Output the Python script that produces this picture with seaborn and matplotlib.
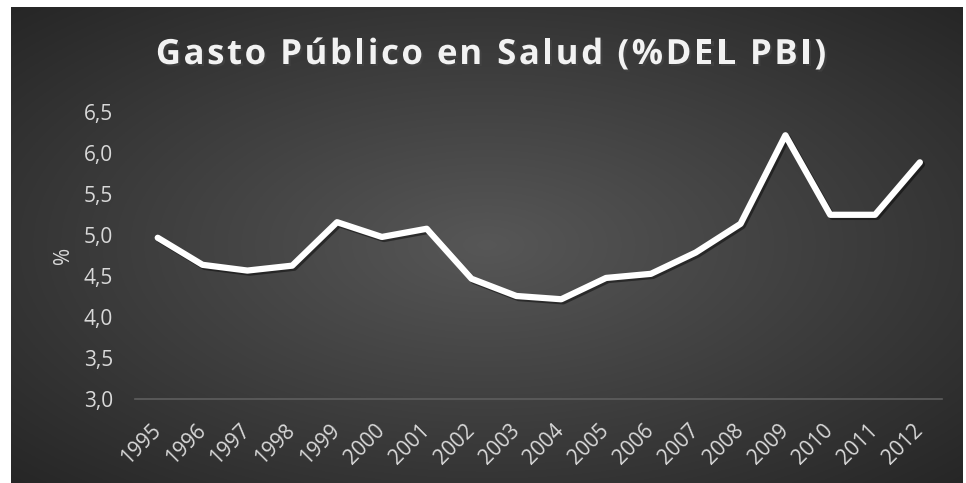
import numpy as np
import pandas as pd
import seaborn as sns
import matplotlib.pyplot as plt
import matplotlib.patheffects as pe

years = ['1995', '1996', '1997', '1998', '1999', '2000', '2001', '2002', '2003',
         '2004', '2005', '2006', '2007', '2008', '2009', '2010', '2011', '2012']
gasto = [4.97, 4.64, 4.57, 4.63, 5.16, 4.98, 5.08, 4.47, 4.26,
         4.22, 4.48, 4.53, 4.79, 5.14, 6.22, 5.25, 5.25, 5.89]
y_ticks = [3.0, 3.5, 4.0, 4.5, 5.0, 5.5, 6.0, 6.5]
y_labels = ['3,0', '3,5', '4,0', '4,5', '5,0', '5,5', '6,0', '6,5']
title = 'Gasto Público en Salud (%DEL PBI)'

df = pd.DataFrame({'year': years, 'gasto': gasto})

sns.set_theme(style='white')
plt.rcParams['font.family'] = ['Open Sans', 'DejaVu Sans']

fig = plt.figure(figsize=(9.66, 4.83), dpi=100)
fig.patch.set_facecolor('white')

# dark radial background
bg = fig.add_axes([11 / 966, 0, 952 / 966, 476 / 483], zorder=0)
gx, gy = np.meshgrid(np.linspace(-1, 1, 600), np.linspace(-1, 1, 300))
r = np.clip(np.sqrt(gx ** 2 + gy ** 2) / np.sqrt(2), 0, 1)
shade = 0.34 - 0.19 * r
bg.imshow(np.dstack([shade, shade, shade]), aspect='auto', extent=[0, 1, 0, 1])
bg.set_axis_off()

ax = fig.add_axes([135.3 / 966, 1 - 399.3 / 483, 807 / 966, 287 / 483], zorder=1)
ax.patch.set_alpha(0)

sns.lineplot(data=df, x='year', y='gasto', ax=ax, color='white', linewidth=4.5,
             solid_capstyle='round', solid_joinstyle='round',
             path_effects=[pe.SimpleLineShadow(offset=(1.5, -1.5), alpha=0.45, shadow_color='black'),
                           pe.Normal()])

ax.set_xlim(-0.5, len(years) - 0.5)
ax.set_ylim(3.0, 6.5)
ax.set_yticks(y_ticks)
ax.set_yticklabels(y_labels)
ax.tick_params(axis='y', length=0, pad=16, labelsize=15, labelcolor='#d9d9d9')
ax.tick_params(axis='x', length=0, pad=20, labelsize=15, labelcolor='#d9d9d9')
plt.setp(ax.get_xticklabels(), rotation=45, ha='right', va='center', rotation_mode='anchor')

for s in ['top', 'right', 'left']:
    ax.spines[s].set_visible(False)
ax.spines['bottom'].set_color('#5e5e5e')
ax.spines['bottom'].set_linewidth(1.2)

ax.set_xlabel('')
ax.set_ylabel('%', color='#d9d9d9', fontsize=15, labelpad=7)

# title with letter spacing: place each character by measured prefix width
renderer = fig.canvas.get_renderer()
tkw = dict(fontsize=25, fontweight='bold', color='#f2f2f2', va='center', ha='left',
           path_effects=[pe.withSimplePatchShadow(offset=(1.5, -1.5), alpha=0.5)])
spacing = 2.6
probe = fig.text(0, 0, title, **tkw)
full_w = probe.get_window_extent(renderer).width
probe.remove()
total = full_w + spacing * (len(title) - 1)
x0 = 491 - total / 2
for i, ch in enumerate(title):
    if i == 0:
        off = 0
    else:
        p = fig.text(0, 0, title[:i] + 'x', **tkw)
        q = fig.text(0, 0, 'x', **tkw)
        off = p.get_window_extent(renderer).width - q.get_window_extent(renderer).width
        p.remove()
        q.remove()
    if ch != ' ':
        fig.text((x0 + off + spacing * i) / 966, 1 - 55 / 483, ch, **tkw)

fig.savefig('out.png', dpi=100, facecolor='white')
